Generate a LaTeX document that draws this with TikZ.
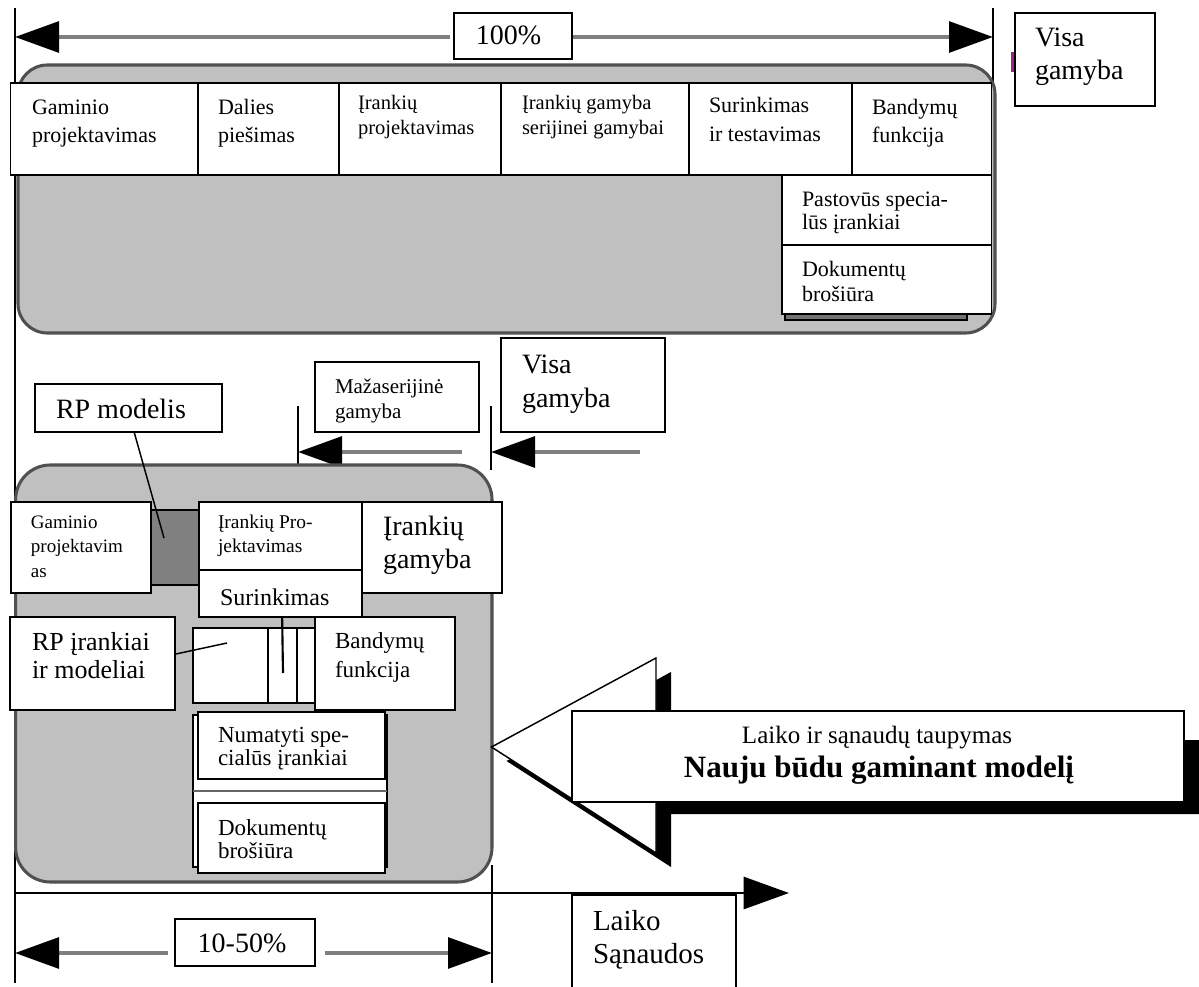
\documentclass[tikz,border=0pt]{standalone}
\usepackage{fontspec}
\setmainfont{Liberation Serif}
\usetikzlibrary{arrows.meta,fit,calc}
\newcommand\fsz[2]{\fontsize{#1pt}{#2pt}\selectfont}
\newcommand\sr{\rule{0pt}{0.75em}}
\definecolor{panel}{HTML}{C0C0C0}
\definecolor{rim}{HTML}{505050}
\definecolor{dimgray}{HTML}{7F7F7F}
\definecolor{darkblock}{HTML}{808080}
\definecolor{markcol}{HTML}{A0208F}
\tikzset{
  wbox/.style={draw=black, fill=white, line width=1.1pt, inner sep=0pt, outer sep=0pt},
  panelbox/.style={draw=rim, fill=panel, line width=2.3pt, inner sep=0pt, outer sep=0pt, rounded corners=#1},
  lbl/.style={anchor=north west, inner sep=0pt, outer sep=0pt, align=left},
  ctr/.style={anchor=base, inner sep=0pt, outer sep=0pt},
  axisline/.style={draw=black, line width=2.2pt},
  dimline/.style={draw=dimgray, line width=3pt},
  tipped/.style={-{Triangle[length=33pt,width=23pt,color=black]}},
  thinline/.style={draw=black, line width=1.1pt},
}
\begin{document}
\begin{tikzpicture}[x=0.75pt,y=-0.75pt]
\useasboundingbox (0,0) rectangle (1199,987);

% ---------- frame lines ----------
\coordinate (lt) at (15,8);
\coordinate (lb) at (15,983);
\coordinate (rt) at (993,8);
\coordinate (rb) at (993,300);
\coordinate (mt) at (492,865);
\coordinate (mb) at (492,983);
\draw[axisline] (lt) -- (lb);
\draw[axisline] (rt) -- (rb);
\draw[axisline] (mt) -- (mb);

% ---------- top panel ----------
\node[panelbox=22pt, fit={(18,65)(995,333)}] (toppanel) {};
\node[wbox, fill=black!55, fit={(785,312)(967,320)}] (docshadow) {};

\node[wbox, fit={(10.7,83)(198,175)}] (b1) {};
\node[wbox, fit={(198,83)(339,175)}] (b2) {};
\node[wbox, fit={(339,83)(501,175)}] (b3) {};
\node[wbox, fit={(501,83)(689,175)}] (b4) {};
\node[wbox, fit={(689,83)(852,175)}] (b5) {};
\node[wbox, fit={(852,83)(991.5,175)}] (b6) {};
\node[wbox, fit={(782,175)(991.5,245)}] (b7) {};
\node[wbox, fit={(782,245)(991.5,314)}] (b8) {};

\node[lbl, font=\fsz{16.5}{21}] (t1) at (32,98.5) {\sr Gaminio\\projektavimas};
\node[lbl, font=\fsz{16.5}{21}] (t2) at (218,98.5) {\sr Dalies\\piešimas};
\node[lbl, font=\fsz{15.4}{18.75}] (t3) at (358,94.6) {\sr Įrankių\\projektavimas};
\node[lbl, font=\fsz{15.4}{18.75}] (t4) at (522,94.6) {\sr Įrankių gamyba\\serijinei gamybai};
\node[lbl, font=\fsz{16.5}{21.75}] (t5) at (709,96.5) {\sr Surinkimas\\ir testavimas};
\node[lbl, font=\fsz{16.5}{21}] (t6) at (872,98.5) {\sr Bandymų\\funkcija};
\node[lbl, font=\fsz{16.5}{17.25}] (t7) at (802,190.5) {\sr Pastovūs specia-\\lūs įrankiai};
\node[lbl, font=\fsz{16.5}{18.75}] (t8) at (802,260.5) {\sr Dokumentų\\brošiūra};

% ---------- top dimension ----------
\coordinate (topL) at (15,37);
\coordinate (topR) at (993,37);
\coordinate (topLs) at (450,37);
\coordinate (topRs) at (570,37);
\draw[dimline, tipped] (topLs) -- (topL);
\draw[dimline, tipped] (topRs) -- (topR);
\node[wbox, fit={(454,13)(572,59)}] (pct100) {};
\node[ctr, font=\fsz{21}{25}] (pct100t) at (508.5,45) {100\%};

\node[wbox, fit={(1015,13)(1155,106)}] (visa1) {};
\node[lbl, font=\fsz{21}{24.75}] (visa1t) at (1035,26) {\sr Visa\\gamyba};
\node[fill=markcol, inner sep=0pt, fit={(1011,52)(1014,72)}] (markbar) {};

% ---------- middle labels ----------
\node[wbox, fit={(501,338)(665,432)}] (visa2) {};
\node[lbl, font=\fsz{21}{25.5}] (visa2t) at (522,352) {\sr Visa\\gamyba};
\node[wbox, fit={(315,362)(479,432)}] (maza) {};
\node[lbl, font=\fsz{15.75}{18.75}] (mazat) at (335,377.25) {\sr Mažaserijinė\\gamyba};
\node[wbox, fit={(35,384)(222,432)}] (rpm) {};
\node[lbl, font=\fsz{21}{25}] (rpmt) at (56,397) {\sr RP modelis};

\coordinate (v1t) at (298,406);
\coordinate (v1b) at (298,502);
\coordinate (v2t) at (491,406);
\coordinate (v2b) at (491,470);
\draw[thinline, line width=1.6pt] (v1t) -- (v1b);
\draw[thinline, line width=1.6pt] (v2t) -- (v2b);
\coordinate (a1s) at (462,452);
\coordinate (a1e) at (298,452);
\coordinate (a2s) at (640,452);
\coordinate (a2e) at (491,452);
\draw[dimline, tipped] (a1s) -- (a1e);
\draw[dimline, tipped] (a2s) -- (a2e);

% ---------- bottom panel ----------
\node[panelbox=26pt, fit={(15.6,465)(492,882)}] (botpanel) {};
\node[wbox, fill=darkblock, fit={(151,510)(199,585)}] (rpblock) {};
\node[wbox, fit={(11,502)(151,593)}] (gp) {};
\node[lbl, font=\fsz{14.25}{18.4}] (gpt) at (31,513.75) {\sr Gaminio\\projektavim\\as};
\node[wbox, fit={(199,502)(362,570)}] (irp) {};
\node[lbl, font=\fsz{14.6}{18}] (irpt) at (218,513.4) {\sr Įrankių Pro-\\jektavimas};
\node[wbox, fit={(199,570)(362,617)}] (sur) {};
\node[lbl, font=\fsz{18}{22}] (surt) at (220,587) {\sr Surinkimas};
\node[wbox, fit={(362,502)(502,593)}] (ig) {};
\node[lbl, font=\fsz{21}{24.75}] (igt) at (383,514) {\sr Įrankių\\gamyba};

\node[wbox, fit={(193,628)(330,703)}] (rpframe) {};
\draw[thinline] (rpframe.north west) ++(75,0) coordinate (f1t) -- ++(0,75) coordinate (f1b);
\draw[thinline] (rpframe.north west) ++(104,0) coordinate (f2t) -- ++(0,75) coordinate (f2b);

\node[wbox, fit={(10,617)(175,710)}] (rpi) {};
\node[lbl, font=\fsz{19.5}{21}] (rpit) at (32,630.5) {\sr RP įrankiai\\ir modeliai};
\node[wbox, fit={(315,617)(455,710)}] (band) {};
\node[lbl, font=\fsz{17.25}{21.75}] (bandt) at (335,630.75) {\sr Bandymų\\funkcija};

\node[wbox, fit={(193,715)(387,867)}] (lowframe) {};
\draw[thinline, draw=black!60, line width=1.5pt] (193,791) coordinate (lf1) -- (387,791) coordinate (lf2);
\node[wbox, fit={(198,712)(385,779)}] (num) {};
\node[lbl, font=\fsz{17.25}{17.25}] (numt) at (218,724.75) {\sr Numatyti spe-\\cialūs įrankiai};
\node[wbox, fit={(198,803)(385,873)}] (dok) {};
\node[lbl, font=\fsz{17.25}{17.25}] (dokt) at (218,817.75) {\sr Dokumentų\\brošiūra};

% connectors
\coordinate (rpmEnd) at (164,538);
\draw[thinline] ($(rpm.south west)!0.53!(rpm.south east)$) -- (rpmEnd);
\coordinate (surEnd) at (283,673);
\draw[thinline, line width=1.6pt] ($(sur.south west)!0.51!(sur.south east)$) -- (surEnd);
\coordinate (rpiEnd) at (227,643);
\draw[thinline] ($(rpi.north east)!0.4!(rpi.south east)$) -- (rpiEnd);

% ---------- bottom axis ----------
\coordinate (ax0) at (15,893);
\coordinate (ax1) at (789,893);
\draw[axisline, -{Triangle[length=34pt,width=24pt]}] (ax0) -- (ax1);

\coordinate (bL) at (15,953);
\coordinate (bR) at (492,953);
\coordinate (bLs) at (168,953);
\coordinate (bRs) at (325,953);
\draw[dimline, tipped] (bLs) -- (bL);
\draw[dimline, tipped] (bRs) -- (bR);
\node[wbox, fit={(175,919)(315,966)}] (pct1050) {};
\node[ctr, font=\fsz{21}{25}] (pct1050t) at (242,952) {10-50\%};

\node[wbox, fit={(572,895)(736,995)}] (laiko) {};
\node[lbl, font=\fsz{21.75}{24.75}] (laikot) at (593,908.25) {\sr Laiko\\Sąnaudos};

% ---------- block arrow ----------
\fill[black, shift={(15,14)}] (491.5,747) -- (656,658) -- (656,726) -- (1184,726) -- (1184,800) -- (656,800) -- (656,853) -- cycle;
\draw[fill=white, line width=1.1pt] (491.5,747) -- (656,658) -- (656,726) -- (1184,726) -- (1184,800) -- (656,800) -- (656,853) -- cycle;
\node[wbox, fit={(572,711)(1184,802)}] (save) {};
\node[ctr, font=\fsz{18.75}{22}] (savet1) at (877,743) {Laiko ir sąnaudų taupymas};
\node[ctr, font=\fsz{23.25}{27}\bfseries] (savet2) at (879,777) {Nauju būdu gaminant modelį};
\end{tikzpicture}
\end{document}
